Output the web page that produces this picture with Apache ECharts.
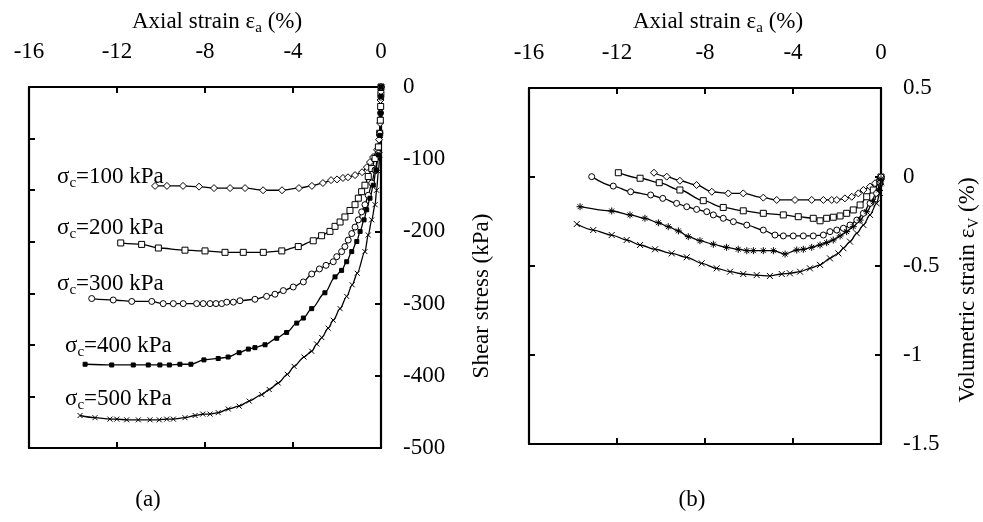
<!DOCTYPE html>
<html>
<head>
<meta charset="utf-8">
<script src="https://cdn.jsdelivr.net/npm/echarts@6/dist/echarts.min.js"></script>
<style>
  html, body { margin: 0; padding: 0; background: #fff; }
  #chart { width: 983px; height: 522px; }
</style>
</head>
<body>
<div id="chart"></div>
<script>
// axial strain (%) vs shear stress (kPa), panel (a)
const shear100 = [[-10.27,-137],[-9.73,-137],[-9.0,-137],[-8.27,-138],[-7.59,-140],[-6.86,-140],[-6.18,-140],[-5.36,-143],[-4.5,-143],[-3.73,-140],[-3.14,-137],[-2.64,-133],[-2.27,-129],[-2.0,-128],[-1.73,-126],[-1.5,-125],[-1.18,-122],[-0.86,-118],[-0.64,-111],[-0.5,-104],[-0.36,-97],[-0.18,-87],[-0.09,-73],[-0.04,-50],[-0.02,-18],[0,0]];
const shear200 = [[-11.83,-216],[-10.88,-218],[-10.12,-223],[-8.91,-226],[-8.0,-227],[-7.09,-229],[-6.26,-229],[-5.35,-229],[-4.51,-227],[-3.76,-221],[-3.08,-213],[-2.7,-206],[-2.32,-200],[-2.09,-193],[-1.86,-187],[-1.64,-180],[-1.41,-171],[-1.18,-163],[-1.03,-154],[-0.88,-145],[-0.73,-136],[-0.58,-124],[-0.42,-113],[-0.27,-99],[-0.12,-83],[-0.06,-64],[-0.03,-46],[-0.015,-27],[-0.005,-9],[0,0]];
const shear300 = [[-13.15,-293],[-12.17,-295],[-11.33,-297],[-10.42,-297],[-9.9,-300],[-9.44,-300],[-8.99,-300],[-8.38,-300],[-8.08,-300],[-7.77,-300],[-7.5,-300],[-7.24,-300],[-7.01,-298],[-6.71,-298],[-6.41,-296],[-5.73,-294],[-5.2,-290],[-4.82,-287],[-4.44,-282],[-3.99,-277],[-3.53,-270],[-3.15,-259],[-2.8,-252],[-2.5,-247],[-2.17,-242],[-2.01,-235],[-1.79,-228],[-1.64,-221],[-1.49,-212],[-1.33,-203],[-1.18,-194],[-1.03,-184],[-0.88,-173],[-0.73,-163],[-0.58,-150],[-0.42,-133],[-0.27,-115],[-0.12,-92],[-0.05,-64],[-0.02,-36],[-0.005,-14],[0,0]];
const shear400 = [[-13.45,-384],[-12.24,-385],[-11.26,-385],[-10.58,-385],[-10.05,-385],[-9.62,-385],[-9.14,-384],[-8.64,-384],[-8.05,-378],[-7.4,-376],[-6.95,-374],[-6.45,-368],[-6.03,-363],[-5.73,-361],[-5.27,-357],[-4.74,-348],[-4.29,-340],[-3.83,-327],[-3.53,-320],[-3.15,-307],[-2.55,-285],[-2.09,-263],[-1.79,-254],[-1.56,-242],[-1.33,-228],[-1.1,-214],[-0.95,-200],[-0.77,-184],[-0.65,-170],[-0.5,-154],[-0.35,-136],[-0.23,-115],[-0.12,-94],[-0.05,-67],[-0.02,-36],[-0.005,-13],[0,0]];
const shear500 = [[-13.68,-455],[-13.0,-458],[-12.32,-460],[-12.01,-460],[-11.56,-461],[-11.03,-461],[-10.5,-461],[-10.08,-461],[-9.74,-460],[-9.44,-460],[-8.91,-458],[-8.45,-455],[-8.1,-453],[-7.77,-453],[-7.4,-451],[-6.94,-446],[-6.45,-442],[-5.99,-435],[-5.42,-426],[-5.08,-419],[-4.67,-410],[-4.26,-398],[-3.95,-387],[-3.5,-374],[-3.15,-366],[-2.92,-356],[-2.69,-347],[-2.4,-334],[-2.17,-323],[-1.86,-307],[-1.56,-290],[-1.31,-274],[-1.08,-258],[-0.73,-228],[-0.58,-205],[-0.42,-184],[-0.27,-163],[-0.2,-143],[-0.12,-117],[-0.05,-94],[-0.03,-67],[-0.015,-39],[-0.005,-11],[0,0]];

// axial strain (%) vs volumetric strain (%), panel (b)
const vol100 = [[-10.32,0.024],[-9.74,0.002],[-9.14,-0.021],[-8.38,-0.045],[-7.69,-0.083],[-6.94,-0.092],[-6.26,-0.092],[-5.35,-0.116],[-4.74,-0.129],[-3.91,-0.129],[-3.15,-0.129],[-2.62,-0.129],[-2.24,-0.129],[-2.01,-0.129],[-1.64,-0.12],[-1.33,-0.111],[-1.03,-0.092],[-0.8,-0.073],[-0.5,-0.054],[-0.27,-0.035],[-0.05,-0.017],[0,0]];
const vol200 = [[-11.94,0.024],[-10.95,-0.007],[-10.08,-0.032],[-9.14,-0.073],[-8.08,-0.133],[-7.17,-0.171],[-6.26,-0.19],[-5.35,-0.204],[-4.44,-0.213],[-3.76,-0.223],[-3.08,-0.232],[-2.77,-0.246],[-2.47,-0.232],[-2.17,-0.226],[-1.86,-0.219],[-1.56,-0.204],[-1.26,-0.185],[-0.95,-0.157],[-0.65,-0.111],[-0.35,-0.073],[-0.05,-0.026],[0,0]];
const vol300 = [[-13.15,0.002],[-12.17,-0.051],[-11.38,-0.083],[-10.47,-0.101],[-9.92,-0.12],[-9.29,-0.148],[-8.83,-0.167],[-8.38,-0.182],[-7.92,-0.195],[-7.62,-0.213],[-7.17,-0.232],[-6.71,-0.251],[-6.1,-0.27],[-5.35,-0.298],[-4.82,-0.326],[-4.44,-0.331],[-3.99,-0.331],[-3.53,-0.331],[-3.08,-0.331],[-2.62,-0.326],[-2.32,-0.307],[-2.01,-0.298],[-1.71,-0.288],[-1.41,-0.27],[-1.1,-0.242],[-0.8,-0.204],[-0.5,-0.148],[-0.2,-0.092],[-0.05,-0.035],[0,0]];
const vol400 = [[-13.68,-0.167],[-12.24,-0.191],[-11.41,-0.213],[-10.73,-0.232],[-10.12,-0.257],[-9.67,-0.279],[-9.21,-0.303],[-8.76,-0.335],[-8.23,-0.358],[-7.62,-0.378],[-7.02,-0.395],[-6.49,-0.406],[-6.1,-0.414],[-5.8,-0.414],[-5.35,-0.414],[-4.89,-0.414],[-4.36,-0.433],[-3.83,-0.41],[-3.53,-0.406],[-3.15,-0.395],[-2.77,-0.382],[-2.47,-0.369],[-2.17,-0.354],[-1.86,-0.331],[-1.56,-0.307],[-1.26,-0.279],[-0.95,-0.242],[-0.65,-0.195],[-0.35,-0.139],[-0.1,-0.073],[-0.02,-0.04],[0,-0.01]];
const vol500 = [[-13.83,-0.264],[-13.08,-0.298],[-12.24,-0.326],[-11.56,-0.354],[-10.95,-0.382],[-10.27,-0.406],[-9.51,-0.429],[-8.83,-0.451],[-8.15,-0.485],[-7.47,-0.513],[-6.86,-0.532],[-6.26,-0.545],[-5.65,-0.551],[-5.05,-0.556],[-4.51,-0.545],[-4.14,-0.541],[-3.68,-0.532],[-3.23,-0.513],[-2.77,-0.494],[-2.32,-0.457],[-1.94,-0.429],[-1.71,-0.4],[-1.41,-0.363],[-1.1,-0.316],[-0.8,-0.27],[-0.5,-0.213],[-0.2,-0.148],[-0.05,-0.09],[0,-0.03]];

const strainTicks = [-16, -12, -8, -4, 0];
const shearTicks = [-500, -400, -300, -200, -100, 0];
const volTicks = [-1.5, -1, -0.5, 0, 0.5];
const pressures = ['100', '200', '300', '400', '500'];

const FONT = 'Liberation Serif';
const FS = 23;
const black = '#000';

const chart = echarts.init(document.getElementById('chart'));

const xMark = 'path://M0,0L10,10M10,0L0,10';
const starMark = 'path://M5,0L5,10M0,5L10,5M1.5,1.5L8.5,8.5M8.5,1.5L1.5,8.5';

function xAxisFor(grid, pos, labels) {
  return {
    type: 'value', gridIndex: grid, position: pos,
    min: strainTicks[0], max: strainTicks[strainTicks.length - 1], interval: 4,
    axisLine: { show: true, onZero: false, lineStyle: { color: black, width: 2.2 } },
    axisTick: { show: true, inside: true, length: 6, lineStyle: { color: black, width: 2 } },
    axisLabel: { show: labels, color: black, fontFamily: FONT, fontSize: FS, margin: 24 },
    splitLine: { show: false }
  };
}

function yAxisFor(grid, pos, min, max, interval, labels) {
  return {
    type: 'value', gridIndex: grid, position: pos, min, max, interval,
    axisLine: { show: true, onZero: false, lineStyle: { color: black, width: 2.2 } },
    axisTick: { show: true, inside: true, length: 6, lineStyle: { color: black, width: 2 } },
    axisLabel: { show: labels, color: black, fontFamily: FONT, fontSize: FS, margin: 22 },
    splitLine: { show: false }
  };
}

function curve(data, xi, yi, symbol, size, fill) {
  return {
    type: 'line', data, xAxisIndex: xi, yAxisIndex: yi,
    smooth: 0.3, smoothMonotone: 'x',
    symbol, symbolSize: size, showAllSymbol: true,
    lineStyle: { color: black, width: 1.3 },
    itemStyle: { color: fill, borderColor: black, borderWidth: 1 },
    emphasis: { disabled: true }
  };
}

const sub = { fontFamily: FONT, fontSize: 15, fill: black, verticalAlign: 'bottom', lineHeight: 14 };

function txt(text, x, y, opts) {
  return Object.assign({
    type: 'text', x, y,
    style: {
      text, fill: black, fontFamily: FONT, fontSize: FS, lineHeight: 28,
      align: 'center', verticalAlign: 'middle',
      rich: { s: sub }
    }
  }, opts || {});
}

const labelPos = [[57, 177], [57, 228], [57, 284], [65, 346], [65, 399]];

const graphics = [
  txt('Axial strain ε{s|a} (%)', 217, 22),
  txt('Axial strain ε{s|a} (%)', 718, 22),
  txt('Shear stress (kPa)', 482, 296, { rotation: Math.PI / 2 }),
  txt('Volumetric strain ε{s|V} (%)', 968, 290, { rotation: Math.PI / 2 }),
  txt('(a)', 148, 500),
  txt('(b)', 692, 500)
];
pressures.forEach((p, i) => {
  const g = txt('σ{s|c}=' + p + ' kPa', labelPos[i][0], labelPos[i][1]);
  g.style.align = 'left';
  graphics.push(g);
});

const option = {
  animation: false,
  backgroundColor: '#fff',
  textStyle: { fontFamily: FONT },
  grid: [
    { left: 29, width: 352, top: 87, height: 361 },
    { left: 529, width: 352, top: 88, height: 356 }
  ],
  xAxis: [
    xAxisFor(0, 'top', true),
    xAxisFor(0, 'bottom', false),
    xAxisFor(1, 'top', true),
    xAxisFor(1, 'bottom', false)
  ],
  yAxis: [
    yAxisFor(0, 'right', shearTicks[0], shearTicks[shearTicks.length - 1], 100, true),
    yAxisFor(0, 'left', 0, 7, 1, false),
    yAxisFor(1, 'right', volTicks[0], volTicks[volTicks.length - 1], 0.5, true),
    yAxisFor(1, 'left', volTicks[0], volTicks[volTicks.length - 1], 0.5, false)
  ],
  series: [
    curve(shear100, 0, 0, 'diamond', 7, '#fff'),
    curve(shear200, 0, 0, 'rect', 6, '#fff'),
    curve(shear300, 0, 0, 'circle', 6, '#fff'),
    curve(shear400, 0, 0, 'rect', 4, black),
    curve(shear500, 0, 0, xMark, 5, black),
    curve(vol100, 2, 2, 'diamond', 7, '#fff'),
    curve(vol200, 2, 2, 'rect', 6, '#fff'),
    curve(vol300, 2, 2, 'circle', 6, '#fff'),
    curve(vol400, 2, 2, starMark, 7, black),
    curve(vol500, 2, 2, xMark, 6, black)
  ],
  graphic: graphics
};

chart.setOption(option);
window.addEventListener('resize', () => chart.resize());
</script>
</body>
</html>
